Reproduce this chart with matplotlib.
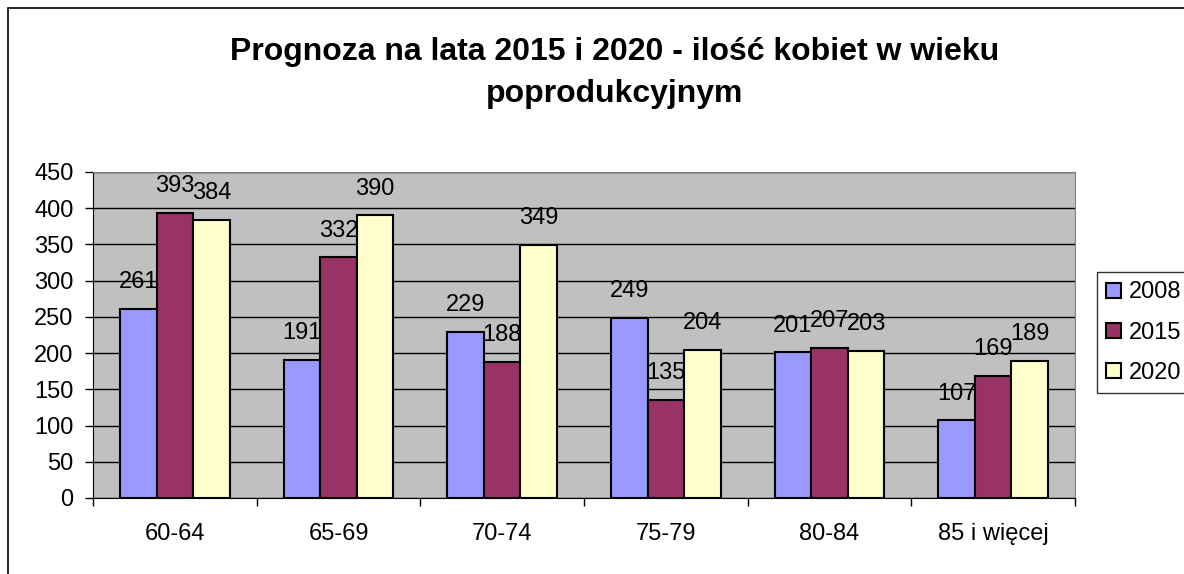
import numpy as np
import matplotlib
matplotlib.use("Agg")
import matplotlib.pyplot as plt
from matplotlib.patches import Rectangle

plt.rcParams["font.family"] = ["Liberation Sans", "DejaVu Sans"]

# --- data -----------------------------------------------------------------
categories = ["60-64", "65-69", "70-74", "75-79", "80-84", "85 i więcej"]
years = ["2008", "2015", "2020"]
v2008 = [261, 191, 229, 249, 201, 107]
v2015 = [393, 332, 188, 135, 207, 169]
v2020 = [384, 390, 349, 204, 203, 189]
colors = ["#9999FF", "#993366", "#FFFFCC"]
title = "Prognoza na lata 2015 i 2020 - ilość kobiet w wieku\npoprodukcyjnym"

W, H = 1184, 574
FS = 17
fig = plt.figure(figsize=(W / 100, H / 100), dpi=100)

# outer chart frame (right/bottom edges fall outside the image)
fig.add_artist(Rectangle((8 / W, -0.1), 1.2, 1 - 8 / H + 0.1,
                         transform=fig.transFigure, fill=False,
                         edgecolor="black", linewidth=1.2))

ax = fig.add_axes([93 / W, 1 - 498 / H, (1075 - 93) / W, (498 - 172) / H])
ax.set_facecolor("#C0C0C0")

x = np.arange(len(categories))
bw = 0.224
for i, (vals, c, lab) in enumerate(zip([v2008, v2015, v2020], colors, years)):
    bars = ax.bar(x + (i - 1) * bw, vals, bw, color=c, edgecolor="black",
                  linewidth=1.5, label=lab, zorder=3)
    for b, v in zip(bars, vals):
        ax.annotate(str(v), (b.get_x() + b.get_width() / 2, v),
                    xytext=(0, 15), textcoords="offset points",
                    ha="center", va="baseline", fontsize=FS, zorder=4)

ax.set_xlim(-0.5, len(categories) - 0.5)
ax.set_ylim(0, 450)
ax.set_yticks(range(0, 451, 50))
ax.yaxis.grid(True, color="black", linewidth=1)
ax.set_axisbelow(True)
ax.tick_params(axis="y", labelsize=FS, length=6, width=1, direction="out", pad=8)

# x ticks on category boundaries, labels centred in each category
ax.set_xticks(np.arange(len(categories) + 1) - 0.5)
ax.set_xticklabels([])
ax.set_xticks(x, minor=True)
ax.set_xticklabels(categories, minor=True, fontsize=FS)
ax.tick_params(axis="x", which="major", length=6, width=1)
ax.tick_params(axis="x", which="minor", length=0, pad=18)

for s in ["top", "right"]:
    ax.spines[s].set_color("#808080")
for s in ["left", "bottom"]:
    ax.spines[s].set_color("black")

fig.text(615 / W, 1 - 73 / H, title, ha="center", va="center",
         fontsize=23, fontweight="bold", linespacing=1.5)

leg = fig.legend(loc="upper left", bbox_to_anchor=(1097 / W, 1 - 272 / H),
                 fontsize=FS, frameon=True, fancybox=False, edgecolor="black",
                 handlelength=0.6, handleheight=0.6, handletextpad=0.35,
                 labelspacing=0.77, borderpad=0.4, borderaxespad=0)
leg.get_frame().set_linewidth(1)

fig.savefig("out.png", dpi=100)
